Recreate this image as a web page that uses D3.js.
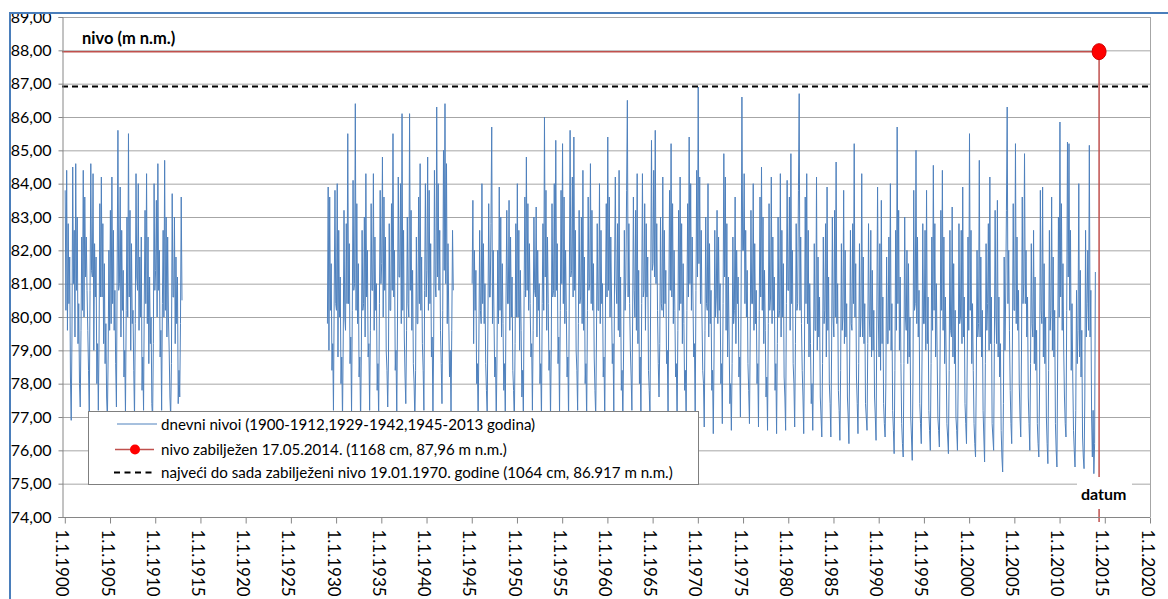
<!DOCTYPE html>
<html>
<head>
<meta charset="utf-8">
<script src="https://cdn.jsdelivr.net/npm/d3@7"></script>
<style>
  html, body { margin: 0; padding: 0; background: #ffffff; }
  svg { display: block; }
</style>
</head>
<body>
<svg id="chart" width="1168" height="599"></svg>
<script>
// ---------------- DATA ----------------
const yTickValues = [74, 75, 76, 77, 78, 79, 80, 81, 82, 83, 84, 85, 86, 87, 88, 89];
const xTickYears = [1900, 1905, 1910, 1915, 1920, 1925, 1930, 1935, 1940, 1945, 1950, 1955,
                    1960, 1965, 1970, 1975, 1980, 1985, 1990, 1995, 2000, 2005, 2010, 2015, 2020];
const pointsPerYear = 12;
const segmentStartYears = [1900, 1929, 1945];

// water level (m n.m.), 12 readings per year (Jan..Dec)
const levels1900_1912 = [
  83.8, 80.2, 84.4, 79.6, 82.8, 80.4, 81.8, 78.2, 76.9, 79.4, 84.5, 81.0,
  82.6, 79.4, 84.6, 80.8, 83.0, 79.2, 80.4, 78.0, 77.3, 79.6, 82.4, 80.2,
  84.4, 80.0, 83.6, 81.2, 82.4, 80.8, 79.6, 78.4, 77.0, 80.8, 84.6, 81.4,
  81.2, 84.3, 79.0, 82.2, 80.6, 81.8, 78.0, 79.2, 77.2, 79.4, 83.4, 80.6,
  84.2, 80.6, 82.8, 79.2, 81.6, 78.6, 79.8, 77.6, 76.9, 78.8, 82.0, 79.6,
  83.2, 79.8, 84.2, 80.4, 82.6, 79.6, 80.8, 78.6, 77.3, 81.5, 85.6, 80.8,
  81.0, 83.9, 79.4, 82.6, 80.2, 81.4, 78.2, 79.0, 77.1, 80.2, 83.0, 80.0,
  85.5, 80.6, 83.2, 79.0, 82.2, 79.8, 80.2, 78.4, 77.0, 79.8, 84.3, 81.2,
  80.8, 84.0, 79.6, 81.8, 80.0, 82.4, 77.8, 78.8, 77.2, 80.6, 83.2, 80.4,
  84.3, 79.8, 82.4, 78.6, 81.2, 79.2, 80.0, 77.4, 76.9, 79.2, 84.0, 80.8,
  81.4, 83.5, 80.0, 84.6, 80.8, 82.0, 78.8, 79.6, 77.2, 80.4, 82.6, 80.0,
  84.7, 80.2, 83.0, 79.4, 82.4, 80.0, 79.0, 77.6, 77.0, 78.6, 83.7, 80.6,
  80.6, 83.0, 79.2, 81.8, 79.8, 81.2, 77.4, 78.4, 77.6, 79.8, 83.6, 80.5
];
const levels1929_1942 = [
  79.8, 83.9, 79.0, 83.6, 80.2, 81.6, 78.4, 79.2, 77.2, 80.6, 83.8, 80.4,
  80.2, 84.0, 78.8, 82.6, 80.0, 81.2, 78.0, 78.8, 76.9, 79.4, 83.2, 80.0,
  79.6, 82.8, 80.4, 85.5, 80.4, 82.2, 78.6, 79.4, 77.1, 80.2, 84.1, 80.8,
  81.0, 86.4, 80.2, 83.4, 79.8, 81.6, 78.2, 78.8, 76.8, 79.0, 82.6, 80.2,
  80.4, 83.0, 79.4, 84.3, 80.6, 82.0, 78.8, 79.2, 77.2, 79.6, 83.4, 80.8,
  80.8, 84.3, 79.6, 82.4, 80.2, 81.0, 77.8, 78.6, 76.9, 80.4, 83.8, 81.0,
  81.6, 84.8, 80.0, 83.6, 80.8, 82.4, 79.0, 78.4, 77.3, 78.8, 82.8, 80.2,
  80.2, 83.4, 80.8, 85.5, 80.6, 82.0, 78.4, 79.0, 77.0, 80.0, 84.2, 81.2,
  81.2, 84.0, 79.8, 86.1, 80.2, 82.6, 79.4, 78.2, 77.4, 79.6, 83.0, 80.4,
  80.0, 86.1, 80.8, 83.2, 79.6, 81.4, 78.6, 78.0, 76.9, 78.4, 82.4, 79.8,
  79.8, 83.6, 80.4, 84.6, 80.2, 81.8, 79.2, 78.4, 77.2, 80.8, 84.0, 80.6,
  81.4, 84.8, 80.2, 83.8, 80.4, 82.2, 78.8, 79.4, 77.0, 79.4, 84.4, 81.0,
  80.6, 86.3, 81.2, 84.0, 80.8, 82.6, 79.6, 78.6, 77.4, 80.2, 85.0, 81.4,
  86.4, 81.0, 84.6, 79.8, 82.2, 80.0, 78.2, 79.0, 77.1, 79.6, 82.6, 80.8
];
const levels1945_2013 = [
  81.0, 83.5, 79.2, 82.0, 80.2, 81.4, 78.0, 78.6, 76.9, 79.4, 82.6, 80.2,   // 1945
  79.8, 84.0, 80.4, 82.2, 79.8, 81.0, 78.6, 77.8, 77.1, 80.0, 83.4, 80.6,
  80.6, 82.8, 85.7, 79.8, 82.0, 80.0, 78.2, 78.8, 76.9, 78.8, 82.0, 79.8,
  83.9, 80.2, 83.0, 79.4, 81.6, 79.8, 77.8, 78.6, 77.0, 80.6, 83.2, 80.4,
  80.4, 83.5, 79.6, 82.4, 80.0, 81.2, 78.4, 77.8, 76.8, 79.2, 82.8, 80.0,
  84.0, 80.0, 82.6, 79.0, 81.4, 79.6, 77.6, 78.4, 76.9, 80.8, 83.6, 80.6,   // 1950
  84.8, 80.8, 83.4, 80.2, 82.2, 80.4, 78.8, 79.2, 77.2, 79.6, 83.0, 80.8,
  80.6, 83.3, 79.4, 82.0, 80.2, 81.0, 78.0, 78.6, 76.9, 80.4, 82.8, 80.2,
  86.0, 81.2, 83.8, 79.6, 82.4, 80.4, 78.4, 79.0, 77.0, 79.0, 83.4, 80.6,
  80.8, 84.0, 80.6, 85.3, 80.8, 82.2, 78.6, 79.4, 77.1, 80.2, 83.8, 81.0,
  85.2, 80.4, 83.6, 79.8, 82.0, 80.2, 78.2, 78.8, 76.9, 81.0, 85.6, 81.2,   // 1955
  81.4, 84.2, 80.6, 85.4, 80.8, 82.6, 79.0, 78.4, 77.2, 79.8, 83.2, 80.4,
  80.6, 83.0, 79.8, 84.4, 79.6, 81.8, 78.0, 78.6, 76.9, 80.2, 83.6, 80.8,
  81.0, 84.6, 80.4, 83.2, 80.2, 81.6, 78.8, 77.8, 77.0, 79.4, 82.8, 80.2,
  80.2, 84.0, 79.8, 82.6, 80.4, 81.0, 78.2, 78.8, 76.8, 80.6, 83.4, 80.6,
  85.4, 80.8, 83.6, 80.0, 82.4, 80.6, 78.6, 79.2, 77.1, 81.2, 84.2, 81.0,   // 1960
  80.4, 82.8, 79.6, 84.4, 79.4, 81.2, 77.8, 78.4, 76.9, 79.0, 82.6, 80.2,
  81.2, 83.8, 86.5, 80.6, 82.8, 80.4, 79.0, 78.2, 77.2, 80.0, 83.6, 80.8,
  80.0, 83.2, 79.6, 84.3, 79.2, 81.4, 78.0, 78.8, 76.9, 80.4, 84.3, 80.6,
  80.8, 83.4, 79.6, 82.8, 80.6, 81.8, 78.4, 77.8, 77.0, 81.0, 85.3, 81.4,
  81.6, 84.4, 81.2, 85.6, 81.0, 82.8, 80.2, 78.6, 77.6, 79.2, 83.0, 80.4,   // 1965
  80.2, 84.2, 80.0, 82.6, 80.4, 81.4, 78.6, 79.0, 77.0, 80.6, 83.8, 80.8,
  85.2, 80.6, 83.4, 79.8, 82.0, 80.2, 78.2, 78.6, 76.8, 79.6, 83.2, 80.2,
  84.2, 80.4, 82.8, 79.2, 81.6, 79.8, 77.8, 78.4, 76.9, 80.2, 83.4, 80.6,
  85.4, 81.0, 84.0, 80.2, 82.4, 80.6, 78.8, 79.2, 77.0, 80.8, 84.4, 81.2,
  86.9, 81.6, 84.2, 80.4, 82.6, 80.0, 78.4, 78.0, 76.7, 79.6, 83.0, 80.4,   // 1970
  80.2, 84.0, 79.4, 82.2, 79.8, 80.8, 77.8, 78.4, 76.5, 78.8, 82.6, 80.0,
  80.6, 83.2, 79.8, 82.4, 80.2, 81.0, 78.0, 78.6, 76.8, 80.4, 84.9, 81.2,
  84.2, 79.6, 82.8, 78.8, 81.2, 79.4, 77.4, 78.0, 76.6, 78.6, 82.4, 79.8,
  80.2, 83.6, 79.2, 82.0, 80.4, 81.2, 78.2, 78.8, 77.0, 81.0, 86.6, 82.0,
  82.0, 84.3, 80.4, 82.6, 80.0, 81.4, 78.6, 77.8, 76.8, 79.4, 83.2, 80.4,   // 1975
  80.4, 84.0, 79.6, 82.2, 79.8, 80.8, 78.0, 78.6, 76.7, 80.2, 83.6, 80.6,
  84.5, 80.2, 83.0, 79.2, 81.4, 79.6, 77.6, 78.2, 76.6, 79.8, 83.4, 80.2,
  80.6, 84.2, 79.8, 82.4, 80.2, 81.2, 77.8, 78.6, 76.5, 79.2, 83.0, 80.0,
  80.2, 84.3, 79.4, 82.6, 80.0, 81.6, 78.2, 77.6, 76.6, 80.4, 84.1, 80.8,
  80.8, 83.6, 79.6, 84.9, 80.4, 82.0, 78.6, 78.0, 76.7, 79.2, 82.8, 80.2,   // 1980
  80.4, 83.8, 86.7, 80.2, 82.4, 79.8, 78.4, 77.6, 76.5, 79.0, 83.6, 80.4,
  84.3, 79.8, 82.6, 78.8, 81.0, 79.2, 77.4, 78.0, 76.6, 78.8, 82.2, 79.6,
  79.6, 84.2, 79.0, 81.8, 79.4, 80.6, 77.6, 77.0, 76.4, 78.6, 82.4, 79.8,
  80.2, 82.8, 78.8, 83.9, 79.6, 81.2, 78.0, 77.4, 76.4, 79.0, 83.0, 80.0,
  79.4, 83.2, 80.0, 84.65, 79.8, 81.0, 77.8, 77.2, 76.3, 78.4, 82.2, 79.6,  // 1985
  80.0, 83.8, 79.2, 82.0, 79.4, 80.4, 77.6, 77.0, 76.2, 78.8, 82.6, 79.8,
  79.6, 82.8, 80.4, 85.2, 80.0, 81.6, 78.2, 77.4, 76.5, 78.6, 82.2, 79.4,
  80.0, 84.3, 79.4, 81.8, 79.2, 80.4, 77.4, 77.0, 76.6, 79.2, 82.8, 80.0,
  79.4, 82.6, 78.8, 81.4, 79.0, 80.2, 77.6, 77.0, 76.3, 80.0, 83.9, 80.0,
  78.8, 82.2, 78.4, 83.5, 79.2, 80.6, 77.4, 76.8, 76.4, 78.0, 81.8, 79.2,   // 1990
  79.2, 82.4, 79.6, 84.0, 79.0, 80.4, 77.2, 76.6, 75.9, 78.4, 82.6, 79.6,
  85.7, 80.4, 83.2, 79.0, 81.2, 78.6, 76.8, 76.2, 75.8, 78.6, 83.0, 80.0,
  79.6, 82.0, 78.6, 81.6, 78.8, 80.0, 77.0, 76.4, 75.7, 78.2, 83.8, 80.2,
  80.4, 85.0, 79.8, 82.4, 79.4, 80.8, 77.4, 76.8, 76.2, 78.8, 82.8, 79.8,
  79.8, 82.6, 79.0, 83.8, 79.2, 80.6, 77.2, 76.6, 76.0, 78.6, 82.4, 79.6,   // 1995
  84.55, 80.2, 82.8, 78.8, 81.0, 79.0, 77.0, 76.6, 76.1, 79.0, 83.2, 80.2,
  84.4, 79.6, 82.4, 78.6, 80.6, 78.8, 76.8, 76.4, 75.9, 78.4, 82.6, 79.6,
  79.4, 83.3, 78.8, 81.6, 78.6, 80.2, 77.0, 76.6, 76.0, 78.2, 82.8, 79.8,
  80.0, 82.6, 79.2, 83.9, 79.4, 80.6, 77.4, 76.8, 76.2, 78.8, 82.4, 79.6,
  85.5, 80.2, 82.6, 78.6, 80.4, 78.4, 76.8, 76.2, 75.8, 78.2, 82.0, 79.4,   // 2000
  79.8, 84.7, 79.4, 81.8, 78.8, 80.2, 77.2, 76.4, 75.65, 78.6, 82.2, 79.6,
  80.4, 82.8, 79.0, 84.2, 79.2, 80.6, 76.8, 76.4, 76.0, 79.2, 83.2, 80.0,
  79.2, 83.5, 78.8, 80.6, 78.2, 79.2, 76.6, 75.8, 75.35, 77.4, 81.8, 79.0,
  80.6, 83.2, 86.3, 80.4, 82.0, 79.6, 77.8, 76.8, 76.2, 79.4, 83.4, 80.2,
  80.2, 85.2, 79.8, 82.4, 79.6, 80.8, 78.0, 77.0, 76.4, 79.0, 83.6, 80.4,   // 2005
  81.0, 84.9, 80.4, 82.0, 79.4, 80.6, 77.6, 76.8, 76.0, 78.6, 82.2, 79.8,
  79.4, 82.6, 78.6, 81.2, 78.4, 79.6, 76.8, 76.2, 75.8, 78.0, 83.8, 80.2,
  79.8, 83.9, 78.8, 81.6, 78.6, 80.0, 77.0, 76.2, 75.6, 78.4, 82.6, 79.6,
  80.2, 83.6, 79.0, 81.8, 78.8, 80.2, 76.8, 76.0, 75.5, 78.8, 83.0, 80.0,
  85.85, 80.6, 83.4, 79.6, 81.6, 79.0, 77.6, 76.8, 76.4, 80.2, 85.25, 81.2, // 2010
  85.2, 80.2, 82.6, 78.4, 80.4, 78.2, 76.6, 76.0, 75.5, 77.2, 80.8, 78.6,
  79.6, 84.0, 78.8, 81.4, 78.2, 79.6, 76.4, 75.8, 75.45, 77.6, 82.6, 79.4,
  80.4, 82.0, 79.6, 85.15, 79.4, 80.8, 77.0, 75.8, 77.2, 75.3, 76.2, 81.35  // 2013
];
const segments = [levels1900_1912, levels1929_1942, levels1945_2013];

const record2014Date = 2014.37;   // 17.05.2014
const record2014Level = 87.96;
const previousMaxLevel = 86.917;  // 19.01.1970

const legendLabels = [
  "dnevni nivoi (1900-1912,1929-1942,1945-2013 godina)",
  "nivo zabilježen 17.05.2014. (1168 cm, 87,96 m n.m.)",
  "najveći do sada zabilježeni nivo 19.01.1970. godine (1064 cm, 86.917 m n.m.)"
];
const yAxisTitle = "nivo (m n.m.)";
const xAxisTitle = "datum";

// ---------------- DRAW ----------------
const FONT = "Lato, 'Open Sans', 'Noto Sans', sans-serif";
const svg = d3.select("#chart");
const plot = { left: 62, right: 1150, top: 17, bottom: 517 };

const x = d3.scaleLinear().domain([1900, 2020]).range([64.8, plot.right]);
const y = d3.scaleLinear().domain([74, 89]).range([plot.bottom, plot.top]);

svg.append("rect").attr("width", 1168).attr("height", 599).attr("fill", "#fff");

// gridlines
svg.append("g").selectAll("line").data(yTickValues).join("line")
  .attr("x1", plot.left).attr("x2", plot.right)
  .attr("y1", d => y(d) + 0.5).attr("y2", d => y(d) + 0.5)
  .attr("stroke", "#a6a6a6").attr("stroke-width", 1);
// right border
svg.append("line").attr("x1", plot.right + 0.5).attr("x2", plot.right + 0.5)
  .attr("y1", plot.top).attr("y2", plot.bottom).attr("stroke", "#a6a6a6");

// data series
const line = d3.line()
  .x(d => x(d.t))
  .y(d => y(d.v));
segments.forEach((vals, si) => {
  const start = segmentStartYears[si];
  const pts = vals.map((v, i) => ({ t: start + (i + 0.5) / pointsPerYear, v }));
  svg.append("path").datum(pts)
    .attr("d", line)
    .attr("fill", "none")
    .attr("stroke", "#4f81bd")
    .attr("stroke-width", 1)
    .attr("stroke-linejoin", "miter");
});

// previous max dashed
svg.append("line")
  .attr("x1", plot.left).attr("x2", plot.right + 2)
  .attr("y1", y(previousMaxLevel)).attr("y2", y(previousMaxLevel))
  .attr("stroke", "#000").attr("stroke-width", 2).attr("stroke-dasharray", "6,4");

// 2014 level: horizontal and vertical red lines
svg.append("line")
  .attr("x1", plot.left).attr("x2", x(record2014Date))
  .attr("y1", y(record2014Level)).attr("y2", y(record2014Level))
  .attr("stroke", "#c0504d").attr("stroke-width", 1.5);
svg.append("line")
  .attr("x1", x(record2014Date)).attr("x2", x(record2014Date))
  .attr("y1", y(record2014Level)).attr("y2", plot.bottom + 5)
  .attr("stroke", "#c0504d").attr("stroke-width", 1.5);
svg.append("ellipse")
  .attr("cx", x(record2014Date)).attr("cy", y(record2014Level))
  .attr("rx", 7).attr("ry", 8)
  .attr("fill", "#ff0000").attr("stroke", "#d00000").attr("stroke-width", 1);

// axes
const yAxis = d3.axisLeft(y).tickValues(yTickValues).tickSize(4).tickPadding(7)
  .tickFormat(d => d3.format(".2f")(d).replace(".", ","));
const gy = svg.append("g").attr("transform", `translate(${plot.left + 0.5},0)`).call(yAxis);
gy.select(".domain").attr("stroke", "#868686");
gy.selectAll(".tick line").attr("stroke", "#868686");
gy.selectAll(".tick text").attr("font-family", FONT).attr("font-size", 16).attr("fill", "#000");

const xAxis = d3.axisBottom(x).tickValues(xTickYears).tickSize(6).tickSizeOuter(0)
  .tickFormat(d => "1.1." + d);
const gx = svg.append("g").attr("transform", `translate(0,${plot.bottom + 0.5})`).call(xAxis);
gx.select(".domain").attr("stroke", "#868686").attr("d", `M${plot.left},0H${plot.right}`);
gx.selectAll(".tick line").attr("stroke", "#868686");
gx.selectAll(".tick text")
  .attr("font-family", FONT).attr("font-size", 17).attr("fill", "#000")
  .attr("text-anchor", "start")
  .attr("dy", "0.35em")
  .attr("y", 0)
  .attr("transform", "translate(-3,12) rotate(90)");

// axis titles
svg.append("text").attr("x", 82).attr("y", 44)
  .attr("font-family", FONT).attr("font-weight", "bold").attr("font-size", 16.5)
  .text(yAxisTitle);
svg.append("rect").attr("x", 1077).attr("y", 477).attr("width", 55).attr("height", 32).attr("fill", "#fff");
svg.append("text").attr("x", 1081).attr("y", 500)
  .attr("font-family", FONT).attr("font-weight", "bold").attr("font-size", 16)
  .text(xAxisTitle);

// legend
const lg = svg.append("g");
lg.append("rect").attr("x", 88.5).attr("y", 411.5).attr("width", 610).attr("height", 73)
  .attr("fill", "#fff").attr("stroke", "#7f7f7f").attr("stroke-width", 1);
const rowY = [424, 449.5, 472.5];
lg.append("line").attr("x1", 117).attr("x2", 157).attr("y1", rowY[0]).attr("y2", rowY[0])
  .attr("stroke", "#4f81bd").attr("stroke-width", 1);
lg.append("line").attr("x1", 115).attr("x2", 154).attr("y1", rowY[1]).attr("y2", rowY[1])
  .attr("stroke", "#c0504d").attr("stroke-width", 1.5);
lg.append("circle").attr("cx", 135).attr("cy", rowY[1]).attr("r", 5).attr("fill", "#ff0000");
lg.append("line").attr("x1", 114).attr("x2", 154).attr("y1", rowY[2]).attr("y2", rowY[2])
  .attr("stroke", "#000").attr("stroke-width", 2).attr("stroke-dasharray", "6,4.5");
const legendTexts = lg.selectAll("text.lt").data(legendLabels).join("text")
  .attr("class", "lt")
  .attr("x", 161).attr("y", (d, i) => rowY[i] + 5.5)
  .attr("font-family", FONT).attr("font-size", 16).attr("fill", "#000")
  .text(d => d);
// scale the legend font so the longest line spans the measured width
const longest = legendTexts.nodes()[2].getComputedTextLength();
legendTexts.attr("font-size", 16 * 512 / longest);

// outer frame (blue), clipping top
svg.append("rect").attr("x", 0).attr("y", 0).attr("width", 1168).attr("height", 12).attr("fill", "#fff");
svg.append("line").attr("x1", 9).attr("x2", 1168).attr("y1", 13).attr("y2", 13)
  .attr("stroke", "#4a7ebb").attr("stroke-width", 2);
svg.append("line").attr("x1", 10).attr("x2", 10).attr("y1", 12).attr("y2", 599)
  .attr("stroke", "#4a7ebb").attr("stroke-width", 2);
</script>
</body>
</html>
